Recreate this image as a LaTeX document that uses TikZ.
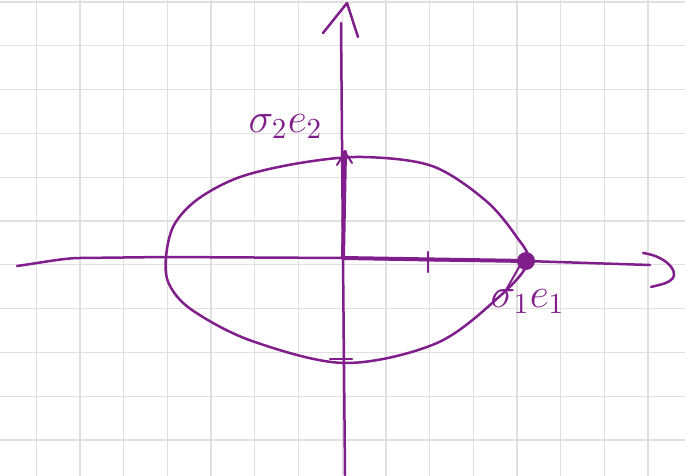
\documentclass[tikz,border=0pt]{standalone}
\usepackage{amsmath}
\definecolor{ink}{RGB}{128,30,140}
\definecolor{gridc}{RGB}{224,224,224}
\begin{document}
\begin{tikzpicture}[x=1pt,y=-1pt,
  pen/.style={draw=ink,line width=2.5pt,line cap=round,line join=round},
  thick vec/.style={draw=ink,line width=4pt,line cap=round},
  lbl/.style={text=ink,font=\Large,scale=2.9,inner sep=0pt}]
\useasboundingbox (0,0) rectangle (685,476);
\fill[white] (0,0) rectangle (685,476);
% grid
\foreach \i in {0,...,15} {\draw[gridc,line width=1.3pt] (36.3+43.7*\i,0) -- (36.3+43.7*\i,476);}
\foreach \j in {0,...,10} {\draw[gridc,line width=1.3pt] (0,2+43.8*\j) -- (685,2+43.8*\j);}
% key points
\coordinate (O) at (343,258);
\coordinate (L) at (166,257);
\coordinate (T) at (345,152);
\coordinate (R) at (526,261);
\coordinate (tick) at (428,260);
\coordinate (xend) at (650,265);
\coordinate (xstart) at (17,266);
\coordinate (ystart) at (341,23);
\coordinate (yend) at (345,475);
% ellipse
\draw[pen] plot[smooth cycle,tension=0.55] coordinates {
 (166,257) (174,225) (198,199) (240,177) (300,163) (363,157)
 (432,166) (485,200) (516,236) (528,262) (500,296)
 (437,343) (345,363) (252,341) (192,310) (169,284)};
% x axis
\draw[pen] (xstart) .. controls (45,262) and (65,258) .. (80,258) -- (L) -- (O) -- (tick) -- (R) -- (xend);
\draw[pen] (643,253) .. controls (665,256) and (678,270) .. (673,278) .. controls (668,284) and (658,285) .. (651,287);
\draw[pen] (428,252) -- (428,272);
% y axis
\draw[pen] (ystart) -- (O) -- (yend);
\draw[pen] (323,33) -- (347,3) -- (358,37);
% small bottom mark
\draw[pen] (330,359) -- (352,359);
% vectors
\draw[thick vec] (O) -- (T);
\draw[pen,line width=2pt] (337,165) -- (T) -- (352,163);
\draw[thick vec] (O) -- (R);
\fill[ink] (R) circle (9);
\draw[pen,line width=2pt] (522,262) -- (506,290);
% labels
\node[lbl,anchor=north west] (l2) at (248,114) {$\sigma_{2}e_{2}$};
\node[lbl,anchor=north west] (l1) at (490,289) {$\sigma_{1}e_{1}$};
\end{tikzpicture}
\end{document}
